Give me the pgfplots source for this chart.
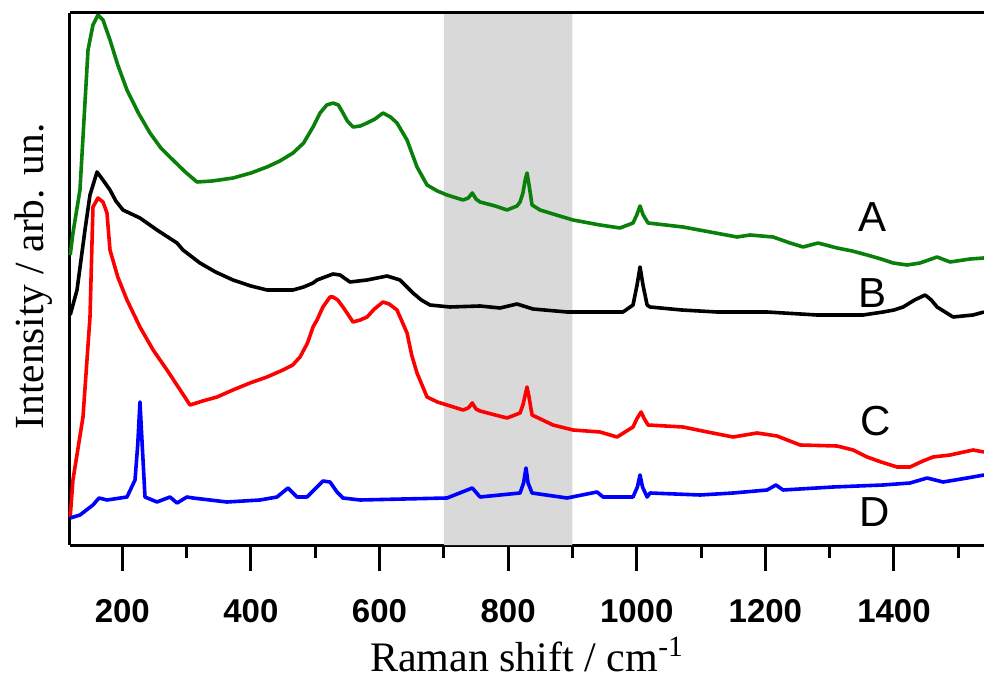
\documentclass[border=0pt]{standalone}
\usepackage{fontspec}
\setmainfont{Liberation Serif}
\setsansfont{Liberation Sans}
\usepackage{pgfplots}
\pgfplotsset{compat=1.18}
\usetikzlibrary{calc}
\definecolor{cA}{RGB}{10,128,10}
\definecolor{band}{RGB}{217,217,217}
\begin{document}
\begin{tikzpicture}
\begin{axis}[name=ax, scale only axis, width=457pt, height=266pt,
  xmin=118.7, xmax=1540, ymin=0, ymax=532, clip=false,
  axis x line*=bottom, axis y line*=left,
  axis line style={line width=1.5pt},
  ytick=\empty,
  xtick={200,400,...,1400}, minor xtick={300,500,...,1500},
  tick align=outside, major tick length=13pt, minor tick length=6.5pt,
  every tick/.style={line width=1.5pt, black},
  /pgf/number format/1000 sep={}, /pgf/number format/assume math mode=true,
  xticklabel style={font=\sffamily\bfseries\fontsize{16.5}{17}\selectfont, yshift=-10.5pt},
  xlabel={Raman shift / cm\textsuperscript{-1}},
  ylabel={Intensity / arb. un.},
  xlabel style={font=\fontsize{21}{22}\selectfont, at={(axis description cs:0.5,-0.2387)}, anchor=base},
  ylabel style={font=\fontsize{20.7}{22}\selectfont, at={(axis description cs:-0.0295,0.505)}, anchor=base, rotate=0},
  every axis plot/.append style={line width=1.8pt, line join=round, mark=none}]
\addplot[fill=band, draw=none] coordinates {(700,0) (900,0) (900,532) (700,532)} \closedcycle;
% A green
\addplot[cA] coordinates {
(119,290)(123.3,312)(134.2,355)(146.7,495)(154.4,520)(162.2,530)(170.0,525)(180.9,505)
(193,480)(207.3,455)(225,432)(243.1,412)(260,397)(278.8,385)(298,373)(316.2,363)(340,364)(372.2,367)(400,372)(425.0,378)(445,384)(465.5,392)(482,402)(496.6,418)
(507.5,432)(518,440)(527.7,442)(536,440)(543.2,432)(550,424)(558.8,418)(570,419)(580.6,422)(593,426)(605.4,432)(617,428)(627.2,422)(642.8,405)
(658.3,378)(673.9,360)(690,354)(705.0,350)(729.9,345)(738,347)(744.3,352)(750,346)(756.3,343)
(780,339)(798.3,335)(813.8,339)(818.5,343)(823,352)(826.5,365)(829.4,372)(832.5,360)(837.2,340)
(849.6,335)(875,330)(900.9,325)(942.9,320)(974.0,317)(994.2,322)(1000,330)(1005.1,339)(1010,330)
(1017.6,322)(1045,320)(1072.0,318)(1114.0,313)(1156.0,308)(1176.2,310)(1212.0,308)(1238.4,302)
(1258.6,298)(1282.0,302)(1311.5,297)(1335,294)(1358.2,290)(1380,286)(1398.7,282)(1420.4,280)(1440.6,282)
(1467.0,288)(1487.2,283)(1518.4,286)(1540,287)};
% B black
\addplot[black] coordinates {
(119,230)(129.6,255)(142.0,315)(149.8,350)(160.7,373)(170,365)(180.9,355)(190,344)(201.1,335)(227.5,327)
(254.0,315)(285.1,302)(294.4,295)(320.8,282)(345,273)(372.2,265)(400,259)(425.0,255)(465.5,255)(482,258)(496.6,262)
(502.8,265)(527.7,271)(538.6,270)(554.1,263)(580.6,265)(611.7,269)(631.9,265)(652.1,252)
(665,245)(678.5,240)(709.6,238)(756.3,239)(787.4,237)(813.8,241)(838.7,236)(891.6,233)(942.9,233)
(978.7,233)(994.2,240)(1000.5,260)(1005.1,278)(1009.7,260)(1016.1,240)(1020.7,238)
(1070,235)(1124.9,233)(1202.6,233)(1280.4,230)(1352.0,230)(1383.1,233)(1400,235)(1414.2,238)(1432,245)(1448.4,250)(1458,245)
(1467.0,238)(1491.9,228)(1523.0,230)(1540,233)};
% C red
\addplot[red] coordinates {
(119,28)(123.3,65)(138.9,128)(149.8,228)(154.4,338)(162.2,347)(170,343)(176.2,332)(180.9,295)(193,268)
(207.3,245)(227.5,218)(248,195)(269.5,175)(288,157)(305.3,140)(325,144)(347.3,148)(372,155)(398.6,162)(425,168)(449.9,175)(465,180)(476.4,188)(488,202)
(496.6,218)(502.8,225)(512,238)(523.0,248)(527.7,248)(535,245)(543.2,238)(558.8,223)(570,225)(580.6,228)(592,236)(605.4,243)(615,241)
(627.2,235)(642.8,212)(650,190)(658.3,172)(673.9,148)(690,143)(705.0,140)(729.9,135)(738,137)(744.3,142)
(750,136)(756.3,134)(780,130)(798.3,127)(818.5,132)(823,140)(826.5,150)(829.4,158)(832.5,148)
(837.2,130)(869.8,120)(900.9,115)(942.9,113)(969.4,108)(994.2,118)(1000,126)(1006.7,133)
(1012,126)(1017.6,120)(1072.0,118)(1110,113)(1149.8,108)(1187.1,112)(1218.2,109)(1254.0,100)
(1311.5,99)(1336.4,95)(1358.2,88)(1380,83)(1404.8,78)(1425.0,78)(1445,84)(1460.8,88)(1487.2,90)(1523.0,95)
(1540,93)};
% D blue
\addplot[blue] coordinates {
(119,27)(134.2,30)(154.4,40)(163.8,47)(176.2,45)(207.3,48)(219.8,65)(224,100)(227.5,143)
(231,100)(235.3,48)(254.0,43)(274.2,48)(285.1,42)(300.6,48)(310.0,47)(362.8,43)(414.2,45)
(440.6,48)(457.7,57)(471.7,48)(487.2,48)(502.8,58)(512.1,64)(523.0,63)(533.9,53)(543.2,47)
(569.7,45)(705.0,47)(744.3,57)(756.3,48)(818.5,52)(824,62)(827.8,77)(831,62)(837.2,52)
(891.6,47)(938.3,53)(947.6,48)(994.2,48)(1001,58)(1005.1,70)(1009,58)(1016.1,48)
(1020.7,52)(1098.4,50)(1149.8,52)(1202.6,55)(1216.6,60)(1227.5,55)(1305.3,58)(1383.1,60)
(1425.0,62)(1451.5,67)(1476.4,63)(1513.7,67)(1540,70)};
\draw[line width=1.5pt] (rel axis cs:0,1) -- (rel axis cs:1,1);
\node[font=\sffamily\fontsize{21}{21}\selectfont] at (axis cs:1367,328) {A};
\node[font=\sffamily\fontsize{21}{21}\selectfont] at (axis cs:1367,252) {B};
\node[font=\sffamily\fontsize{21}{21}\selectfont] at (axis cs:1372,124) {C};
\node[font=\sffamily\fontsize{21}{21}\selectfont] at (axis cs:1370,33) {D};
\end{axis}
\pgfresetboundingbox
\path[use as bounding box] ($(ax.south west)+(-35pt,-69.5pt)$) rectangle ($(ax.north east)+(0,6.5pt)$);
\end{tikzpicture}
\end{document}
